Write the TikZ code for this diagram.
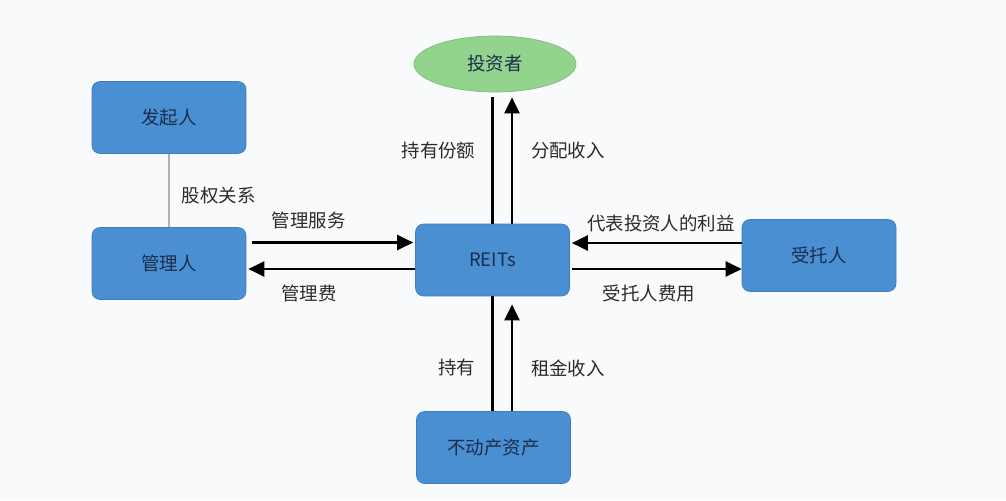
\documentclass[tikz,border=0pt]{standalone}
\usepackage{fontspec}
\setmainfont{Noto Sans CJK SC}
\usetikzlibrary{shapes.geometric, arrows.meta, calc}

\definecolor{boxblue}{HTML}{4B8FD3}
\definecolor{boxline}{HTML}{3F7DBE}
\definecolor{boxtext}{HTML}{1A2D4C}
\definecolor{invgreen}{HTML}{93D38D}
\definecolor{invline}{HTML}{7FBF7A}
\definecolor{labeltext}{HTML}{2B2B2B}
\definecolor{paper}{HTML}{F9FAFB}

\begin{document}
\begin{tikzpicture}[
    x=0.02cm, y=-0.02cm,
    >={Triangle[length=3.2mm, width=3mm]},
    party/.style={draw=boxline, fill=boxblue, rounded corners=1.6mm,
      minimum width=3.08cm, minimum height=1.44cm, text=boxtext,
      font=\fontsize{10.5}{12}\selectfont},
    holder/.style={ellipse, draw=invline, fill=invgreen, minimum width=3.24cm,
      minimum height=1.12cm, text=boxtext, font=\fontsize{10.5}{12}\selectfont},
    flow/.style={->, line width=1.5pt, black},
    bond/.style={line width=1.5pt, black},
    tag/.style={text=labeltext, font=\fontsize{10.5}{12}\selectfont, inner sep=1pt},
  ]
  \useasboundingbox[fill=paper] (0,0) rectangle (1006,500);

  % Parties
  \node[party] (promoter) at (169,117.5) {发起人};
  \node[party] (manager) at (169,263.5) {管理人};
  \node[party] (reits) at (492.5,260) {REITs};
  \node[party] (trustee) at (819,255.5) {受托人};
  \node[party] (asset) at (493.5,447.5) {不动产资产};
  \node[holder] (investor) at (495,64) {投资者};

  % Equity tie
  \draw[line width=1.3pt, gray!60] (promoter) -- (manager)
    node[tag, right=2mm, midway, yshift=-0.1cm] {股权关系};

  % Manager flows
  \draw[flow, shorten <=1.2mm, shorten >=0.4mm] ([yshift=3.5mm]reits.west -| manager.east) -- ([yshift=3.5mm]reits.west)
    node[tag, above=2mm, pos=0.37] {管理服务};
  \draw[flow, shorten >=0.4mm] ([yshift=-1.8mm]reits.west) -- ([yshift=-1.8mm]reits.west -| manager.east)
    node[tag, below=2.6mm, pos=0.63] {管理费};

  % Trustee flows
  \draw[flow, shorten >=0.4mm] ([yshift=3.4mm]reits.east -| trustee.west) -- ([yshift=3.4mm]reits.east)
    node[tag, above=1.6mm, pos=0.47] {代表投资人的利益};
  \draw[flow, shorten <=0.4mm] ([yshift=-1.8mm]reits.east) -- ([yshift=-1.8mm]reits.east -| trustee.west)
    node[tag, below=2.6mm, pos=0.46] {受托人费用};

  % Investor flows
  \draw[bond, shorten >=1mm] (reits.north) -- (reits.north |- investor.south)
    node[tag, left=2.8mm, pos=0.56] {持有份额};
  \draw[flow, shorten >=1mm] ([xshift=3.9mm]reits.north) -- ([xshift=3.9mm]reits.north |- investor.south)
    node[tag, right=3.2mm, pos=0.56] {分配收入};

  % Asset flows
  \draw[bond] (reits.south) -- (reits.south |- asset.north)
    node[tag, left=2.8mm, pos=0.62] {持有};
  \draw[flow, shorten >=1.6mm] ([xshift=3.9mm]reits.south |- asset.north) -- ([xshift=3.9mm]reits.south)
    node[tag, right=3.2mm, pos=0.37] {租金收入};
\end{tikzpicture}
\end{document}
